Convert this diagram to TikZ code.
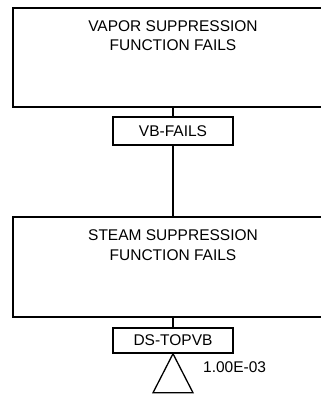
\documentclass[tikz,border=0pt]{standalone}
\usepackage{fontspec}
\setmainfont{Liberation Sans}
\begin{document}
\begin{tikzpicture}[x=1pt,y=-1pt,
  gatebox/.style={draw,line width=1.7pt,minimum width=320pt,minimum height=99pt,inner sep=0pt},
  tagbox/.style={draw,line width=1.5pt,minimum width=120pt,inner sep=0pt,font=\fontsize{15.5}{19}\selectfont},
  lbl/.style={align=center,font=\fontsize{15.5}{19.5}\selectfont,anchor=north,inner sep=0pt},
  conn/.style={line width=1.5pt}]
\useasboundingbox (0,0) rectangle (321,396);
\node[gatebox] (g1) at (173,57.5) {};
\node[lbl] (t1) at (173,20) {VAPOR SUPPRESSION\\FUNCTION FAILS};
\node[tagbox,minimum height=28pt] (vb) at (173,131) {VB-FAILS};
\node[gatebox,minimum height=100pt] (g2) at (173,267) {};
\node[lbl] (t2) at (173,229.5) {STEAM SUPPRESSION\\FUNCTION FAILS};
\node[tagbox,minimum height=25pt] (ds) at (173,340.5) {DS-TOPVB};
\draw[conn] (g1.south) -- (vb.north);
\draw[conn] (vb.south) -- (g2.north);
\draw[conn] (g2.south) -- (ds.north);
\draw[line width=1.3pt,line join=miter] (ds.south) -- ++(-20,39) -- ++(40,0) -- cycle;
\node[anchor=west,inner sep=0pt,font=\fontsize{15.5}{19}\selectfont] (p) at (203,367) {1.00E-03};
\end{tikzpicture}
\end{document}
